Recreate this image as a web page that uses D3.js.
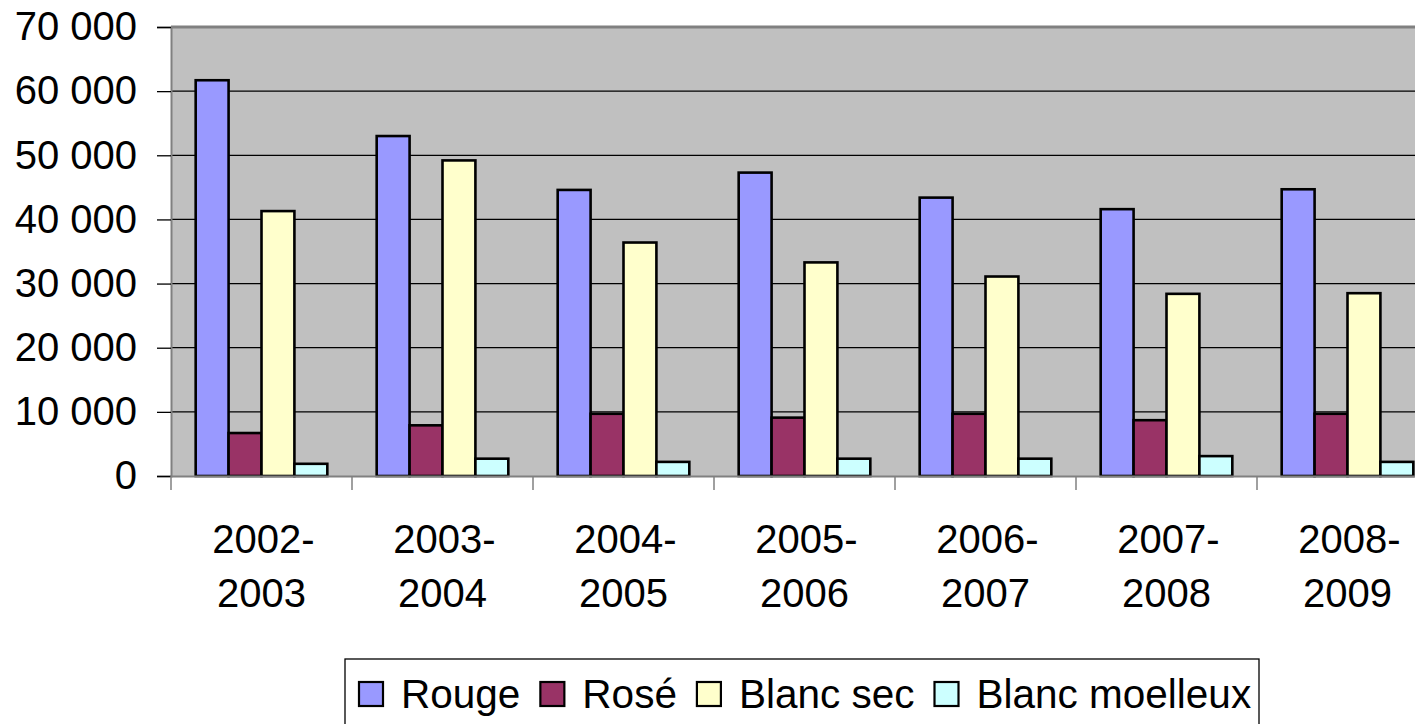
<!DOCTYPE html>
<html>
<head>
<meta charset="utf-8">
<script src="https://cdn.jsdelivr.net/npm/d3@7"></script>
<style>
  body { margin: 0; background: #fff; }
  svg { display: block; font-family: "Liberation Sans", Arial, sans-serif; }
</style>
</head>
<body>
<div id="chart"></div>
<script>
// Wine volumes by campaign
var campaigns = ["2002-2003", "2003-2004", "2004-2005", "2005-2006", "2006-2007", "2007-2008", "2008-2009"];
var seriesNames = ["Rouge", "Rosé", "Blanc sec", "Blanc moelleux"];
var rouge = [61700, 53000, 44600, 47300, 43400, 41600, 44700];
var rose = [6700, 7900, 9700, 9100, 9700, 8700, 9700];
var blancSec = [41300, 49200, 36400, 33300, 31100, 28400, 28500];
var blancMoelleux = [1900, 2700, 2200, 2700, 2700, 3100, 2200];
var yTicks = [0, 10000, 20000, 30000, 40000, 50000, 60000, 70000];

var colors = ["#9999ff", "#993366", "#ffffcc", "#ccffff"];
var allSeries = [rouge, rose, blancSec, blancMoelleux];

var width = 1415;
var height = 724;

// plot area (right side runs past the window edge, like the original)
var plotLeft = 171, plotTop = 27, plotBottom = 476;
var band = 181;
var plotRight = plotLeft + band * campaigns.length;

var svg = d3.select("#chart")
    .append("svg")
    .attr("width", width)
    .attr("height", height);

var x = d3.scaleBand()
    .domain(campaigns)
    .range([plotLeft, plotRight]);

// gap width 150% -> 4 bars + 1.5 bar of gap per category
var barW = band / 5.5;
var xInner = d3.scaleBand()
    .domain(seriesNames)
    .range([barW * 0.75, band - barW * 0.75]);

var y = d3.scaleLinear()
    .domain([0, 70000])
    .range([plotBottom, plotTop]);

// plot background
svg.append("rect")
    .attr("x", plotLeft)
    .attr("y", plotTop)
    .attr("width", plotRight - plotLeft)
    .attr("height", plotBottom - plotTop)
    .attr("fill", "#c0c0c0");

// gridlines
svg.append("g")
    .selectAll("line")
    .data(yTicks.filter(function(d) { return d > 0 && d < 70000; }))
    .join("line")
    .attr("x1", plotLeft)
    .attr("x2", plotRight)
    .attr("y1", function(d) { return y(d); })
    .attr("y2", function(d) { return y(d); })
    .attr("stroke", "#000")
    .attr("stroke-width", 1.3);

// top border of plot
svg.append("line")
    .attr("x1", plotLeft).attr("x2", plotRight)
    .attr("y1", plotTop).attr("y2", plotTop)
    .attr("stroke", "#808080")
    .attr("stroke-width", 3);

// bars
var groups = svg.append("g")
    .selectAll("g")
    .data(campaigns)
    .join("g")
    .attr("transform", function(d) { return "translate(" + x(d) + ",0)"; });

groups.selectAll("rect")
    .data(function(d, i) {
        return seriesNames.map(function(s, j) {
            return { name: s, value: allSeries[j][i], color: colors[j] };
        });
    })
    .join("rect")
    .attr("x", function(d) { return xInner(d.name); })
    .attr("width", xInner.bandwidth())
    .attr("y", function(d) { return y(d.value); })
    .attr("height", function(d) { return plotBottom - y(d.value); })
    .attr("fill", function(d) { return d.color; })
    .attr("stroke", "#000")
    .attr("stroke-width", 2.6);

// y axis
var yAxis = svg.append("g")
    .attr("transform", "translate(" + plotLeft + ",0)")
    .call(d3.axisLeft(y)
        .tickValues(yTicks)
        .tickSize(14)
        .tickPadding(20)
        .tickFormat(function(d) { return d3.format(",")(d).replace(/,/g, " "); }));

yAxis.select(".domain").attr("stroke", "#808080").attr("stroke-width", 2);
yAxis.selectAll(".tick line").attr("stroke", "#000").attr("stroke-width", 1.3);
yAxis.selectAll(".tick text")
    .attr("font-size", 40)
    .attr("fill", "#000")
    .attr("font-family", "Liberation Sans, Arial, sans-serif");

// x axis
var xAxis = svg.append("g")
    .attr("transform", "translate(0," + plotBottom + ")")
    .call(d3.axisBottom(x).tickSize(0).tickFormat(""));

xAxis.select(".domain").attr("stroke", "#808080").attr("stroke-width", 2);

// category separators
svg.append("g")
    .selectAll("line")
    .data(d3.range(campaigns.length + 1))
    .join("line")
    .attr("x1", function(i) { return plotLeft + i * band; })
    .attr("x2", function(i) { return plotLeft + i * band; })
    .attr("y1", plotBottom)
    .attr("y2", plotBottom + 14)
    .attr("stroke", "#808080")
    .attr("stroke-width", 1.5);

// category labels on two lines
var xLabels = svg.append("g")
    .selectAll("text")
    .data(campaigns)
    .join("text")
    .attr("x", function(d) { return x(d) + band / 2; })
    .attr("y", 553)
    .attr("text-anchor", "middle")
    .attr("font-size", 40)
    .attr("fill", "#000");

xLabels.append("tspan")
    .attr("x", function(d) { return x(d) + band / 2 + 2; })
    .text(function(d) { return d.split("-")[0] + "-"; });
xLabels.append("tspan")
    .attr("x", function(d) { return x(d) + band / 2; })
    .attr("dy", 54)
    .text(function(d) { return d.split("-")[1]; });

// legend
var legend = svg.append("g");
legend.append("rect")
    .attr("x", 345)
    .attr("y", 659)
    .attr("width", 914)
    .attr("height", 80)
    .attr("fill", "#fff")
    .attr("stroke", "#000")
    .attr("stroke-width", 1.3);

var lx = 359;
seriesNames.forEach(function(name, i) {
    legend.append("rect")
        .attr("x", lx)
        .attr("y", 682)
        .attr("width", 24)
        .attr("height", 24)
        .attr("fill", colors[i])
        .attr("stroke", "#000")
        .attr("stroke-width", 2.2);
    var t = legend.append("text")
        .attr("x", lx + 42)
        .attr("y", 708)
        .attr("font-size", 40.5)
        .attr("fill", "#000")
        .text(name);
    lx = lx + 42 + t.node().getComputedTextLength() + 20;
});
</script>
</body>
</html>
